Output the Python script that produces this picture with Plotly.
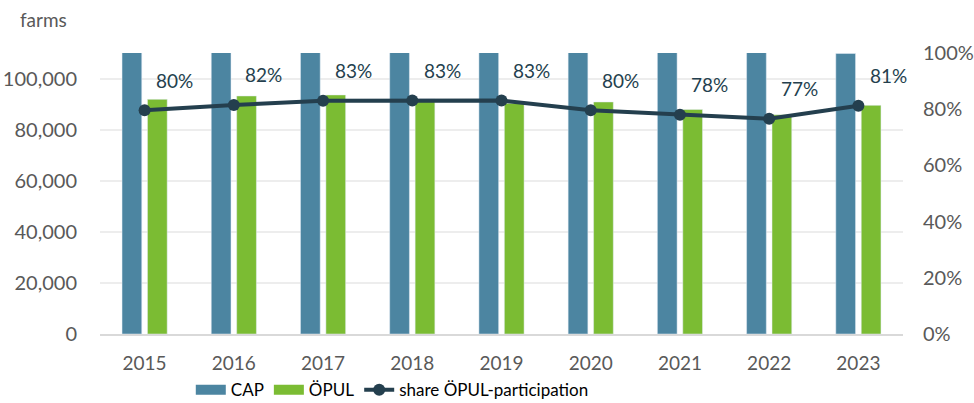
import plotly.graph_objects as go

years = ["2015", "2016", "2017", "2018", "2019", "2020", "2021", "2022", "2023"]
cap_farms = [115200, 114100, 112700, 110900, 110600, 114200, 112700, 112000, 109800]
opul_farms = [91850, 93180, 93580, 92000, 90300, 90830, 87900, 85800, 89500]
share = [0.796, 0.815, 0.830, 0.831, 0.831, 0.796, 0.780, 0.766, 0.812]
share_labels = ["80%", "82%", "83%", "83%", "83%", "80%", "78%", "77%", "81%"]
left_ticks = [0, 20000, 40000, 60000, 80000, 100000]
right_ticks = [0, 0.2, 0.4, 0.6, 0.8, 1.0]

FONT = "Lato"
TICK_COL = "#595959"
LINE_COL = "#243F4E"
CAP_COL = "#4C85A1"
OPUL_COL = "#7BBC33"

fig = go.Figure()
fig.add_trace(go.Bar(x=years, y=cap_farms, name="CAP", marker_color=CAP_COL,
                     legendgroup="cap", showlegend=False))
fig.add_trace(go.Bar(x=years, y=opul_farms, name="ÖPUL", marker_color=OPUL_COL,
                     legendgroup="opul", showlegend=False))
# legend proxies (wide rectangular swatches like the original)
fig.add_trace(go.Scatter(x=[None], y=[None], mode="lines", name="CAP",
                         line=dict(color=CAP_COL, width=11), legendgroup="cap"))
fig.add_trace(go.Scatter(x=[None], y=[None], mode="lines", name="ÖPUL",
                         line=dict(color=OPUL_COL, width=11), legendgroup="opul"))
fig.add_trace(go.Scatter(
    x=years, y=share, name="share ÖPUL-participation", yaxis="y2",
    mode="lines+markers", line=dict(color=LINE_COL, width=4),
    marker=dict(color=LINE_COL, size=12)))

# category axis: annotation x given as the category's serial number
for i, (s, lab) in enumerate(zip(share, share_labels)):
    fig.add_annotation(x=i, xref="x", y=s, yref="y2", text=lab, showarrow=False,
                       xshift=30, yshift=30,
                       font=dict(family=FONT, size=19, color=LINE_COL))

fig.add_annotation(x=0, xref="paper", xanchor="left", xshift=-82,
                   y=1, yref="paper", yanchor="middle", yshift=34,
                   text="farms", showarrow=False,
                   font=dict(family=FONT, size=19, color=TICK_COL))

fig.update_layout(
    width=974, height=403,
    margin=dict(l=100, r=71, t=53, b=69, autoexpand=False),
    plot_bgcolor="white", paper_bgcolor="white",
    barmode="group", bargap=0.43, bargroupgap=0.224,
    font=dict(family=FONT, size=20, color=TICK_COL),
    showlegend=True,
    legend=dict(orientation="h", x=0.364, xanchor="center", y=-0.2, yanchor="middle",
                font=dict(family=FONT, size=17, color="#000000"),
                itemwidth=30, traceorder="normal", tracegroupgap=0),
    xaxis=dict(type="category", categoryorder="array", categoryarray=years,
               range=[-0.5, len(years) - 0.5], autorange=False,
               showgrid=False, showline=True, linecolor="#D9D9D9", linewidth=1.5,
               ticks="outside", ticklen=11, tickcolor="rgba(0,0,0,0)",
               tickfont=dict(color=TICK_COL, size=19), automargin=False),
    yaxis=dict(range=[0, 110000], tickvals=left_ticks, tickformat=",",
               showgrid=True, gridcolor="#EDEDED", gridwidth=1.5, zeroline=False,
               ticks="outside", ticklen=18, tickcolor="rgba(0,0,0,0)", automargin=False),
    yaxis2=dict(range=[0, 1], tickvals=right_ticks, tickformat=".0%",
                overlaying="y", side="right", showgrid=False, zeroline=False,
                ticks="outside", ticklen=15, tickcolor="rgba(0,0,0,0)", automargin=False),
)

fig.write_html("out.html", config={"displayModeBar": False},
               post_script="document.body.style.margin='0';")
